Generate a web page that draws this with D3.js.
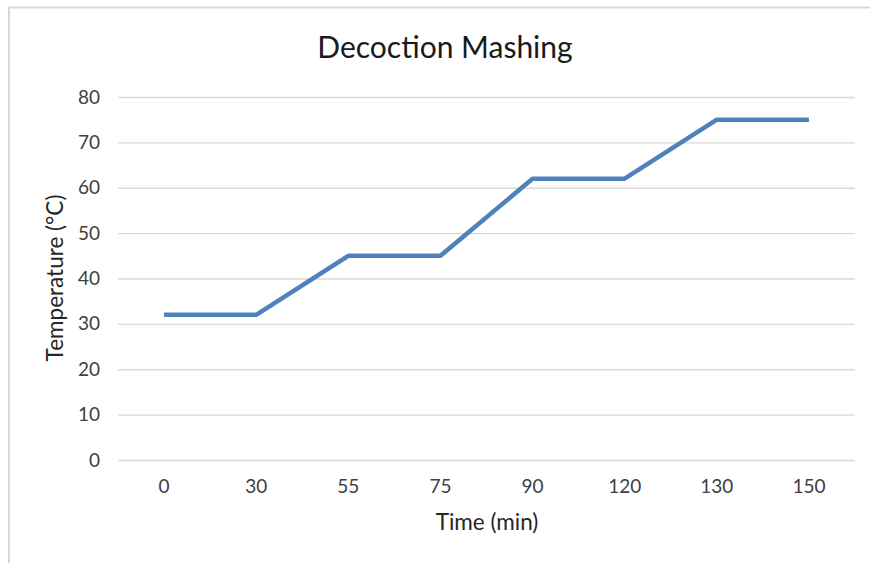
<!DOCTYPE html>
<html>
<head>
<meta charset="utf-8">
<script src="https://cdn.jsdelivr.net/npm/d3@7"></script>
<style>
  html, body { margin: 0; padding: 0; background: #fff; }
  svg { display: block; }
  text { font-family: Lato, "Open Sans", sans-serif; }
</style>
</head>
<body>
<svg id="chart" width="870" height="563"></svg>
<script>
const title = "Decoction Mashing";
const xTitle = "Time (min)";
const yTitle = "Temperature (°C)";
const times = ["0", "30", "55", "75", "90", "120", "130", "150"];
const temps = [32, 32, 45, 45, 62, 62, 75, 75];
const yTicks = [0, 10, 20, 30, 40, 50, 60, 70, 80];

const svg = d3.select("#chart");
const W = 870, H = 563;
const plot = { left: 118, right: 855, top: 97, bottom: 460 };

// chart border (top and left visible)
svg.append("line").attr("x1", 9).attr("x2", W).attr("y1", 7.5).attr("y2", 7.5)
  .attr("stroke", "#d9d9d9").attr("stroke-width", 2);
svg.append("line").attr("x1", 9).attr("x2", 9).attr("y1", 7).attr("y2", H)
  .attr("stroke", "#d9d9d9").attr("stroke-width", 2);

const x = d3.scaleBand().domain(times).range([plot.left, plot.right]).padding(0);
const y = d3.scaleLinear().domain([0, 80]).range([plot.bottom, plot.top]);

// gridlines + y tick labels
const yAxis = d3.axisLeft(y).tickValues(yTicks).tickSize(-(plot.right - plot.left)).tickPadding(18);
const gy = svg.append("g").attr("transform", `translate(${plot.left},0)`).call(yAxis);
gy.select(".domain").remove();
gy.selectAll(".tick line").attr("stroke", "#d9d9d9").attr("stroke-width", 1.3);
gy.selectAll(".tick text").attr("fill", "#404040").style("font-size", "19px");

const xAxis = d3.axisBottom(x).tickSize(0).tickPadding(20);
const gx = svg.append("g").attr("transform", `translate(0,${plot.bottom})`).call(xAxis);
gx.select(".domain").remove();
gx.selectAll(".tick text").attr("fill", "#404040").style("font-size", "19px");

// line
const line = d3.line()
  .x((d, i) => x(times[i]) + x.bandwidth() / 2)
  .y(d => y(d));
svg.append("path").datum(temps)
  .attr("d", line)
  .attr("fill", "none")
  .attr("stroke", "#4f81bd")
  .attr("stroke-width", 4.5)
  .attr("stroke-linejoin", "round")
  .attr("stroke-linecap", "butt");

// titles
svg.append("text").attr("x", 445).attr("y", 58).attr("text-anchor", "middle")
  .attr("fill", "#1a1a1a").style("font-size", "30px").text(title);
svg.append("text").attr("x", 487).attr("y", 530).attr("text-anchor", "middle")
  .attr("fill", "#262626").style("font-size", "22.5px").text(xTitle);
svg.append("text").attr("transform", "translate(63,278) rotate(-90)").attr("text-anchor", "middle")
  .attr("fill", "#262626").style("font-size", "22.5px").text(yTitle);
</script>
</body>
</html>
